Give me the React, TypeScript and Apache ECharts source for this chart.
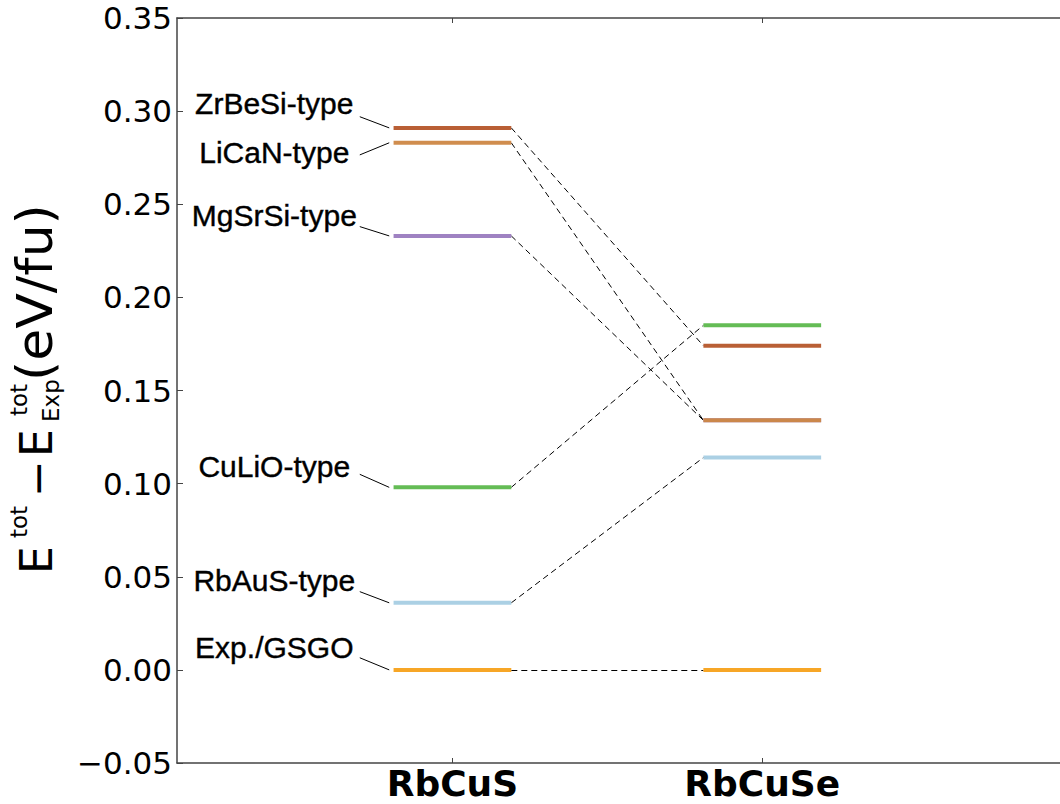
import React, { useEffect, useRef } from "react";
import * as echarts from "echarts";

// ---------- data ----------
const compounds = ["RbCuS", "RbCuSe"];
const compoundPos = [1, 2];
const structures = ["ZrBeSi-type", "LiCaN-type", "MgSrSi-type", "CuLiO-type", "RbAuS-type", "Exp./GSGO"];
const energyRbCuS = [0.291, 0.283, 0.233, 0.098, 0.036, 0.0];
const energyRbCuSe = [0.174, 0.134, 0.134, 0.185, 0.114, 0.0];
const levelColors = ["#b5562a", "#cd8745", "#9a7bbf", "#5cb84c", "#a6cee3", "#f7a11a"];
// annotation anchors (data units)
const labelX = 0.425;
const labelY = [0.304, 0.278, 0.244, 0.109, 0.048, 0.012];
const leaderStartX = 0.701;
const leaderStartY = [0.297, 0.2765, 0.238, 0.105, 0.042, 0.0065];
const leaderEndX = 0.796;

const HALF = 0.19;
const X_MIN = 0.111;
const X_MAX = 2.961;

export default function App() {
  const ref = useRef<HTMLDivElement>(null);
  useEffect(() => {
    if (!ref.current) return;
    const chart = echarts.init(ref.current, null, { renderer: "svg" });

    const levelData: any[] = [];
    for (let i = structures.length - 1; i >= 0; i--) {
      levelData.push([compoundPos[0], energyRbCuS[i], i]);
      levelData.push([compoundPos[1], energyRbCuSe[i], i]);
    }

    const connectors = structures.map((s, i) => ({
      coords: [
        [compoundPos[0] + HALF, energyRbCuS[i]],
        [compoundPos[1] - HALF, energyRbCuSe[i]],
      ],
    }));
    const leaders = structures.map((s, i) => ({
      coords: [
        [leaderStartX, leaderStartY[i]],
        [leaderEndX, energyRbCuS[i]],
      ],
    }));
    const labels = structures.map((s, i) => ({ name: s, value: [labelX, labelY[i]] }));

    const axisColor = "#444";
    const subFont = 23;
    const mainFont = 44;
    const font = "DejaVu Sans";
    const t = (text: string, x: number, y: number, size: number, extra: any = {}) => ({
      type: "text",
      x,
      y,
      ...extra,
      style: { text, fontSize: size, fontFamily: font, fill: "#000", align: "left", verticalAlign: "middle" },
    });

    chart.setOption({
      animation: false,
      grid: { left: 177, right: 0, top: 18, bottom: 41, containLabel: false },
      xAxis: [
        {
          type: "value",
          position: "bottom",
          min: X_MIN,
          max: X_MAX,
          axisLine: { show: true, onZero: false, lineStyle: { color: axisColor, width: 1.5 } },
          axisTick: { show: true, inside: true, length: 5, customValues: compoundPos, lineStyle: { color: axisColor, width: 1 } },
          axisLabel: {
            show: true,
            customValues: compoundPos,
            formatter: (v: number) => compounds[Math.round(v) - 1] || "",
            fontSize: 36,
            lineHeight: 34,
            fontWeight: "bold",
            fontFamily: "DejaVu Sans",
            color: "#000",
            margin: 3,
          },
          splitLine: { show: false },
        },
        {
          type: "value",
          position: "top",
          min: X_MIN,
          max: X_MAX,
          axisLine: { show: true, onZero: false, lineStyle: { color: axisColor, width: 1.5 } },
          axisTick: { show: true, inside: true, length: 5, customValues: compoundPos, lineStyle: { color: axisColor, width: 1 } },
          axisLabel: { show: false },
          splitLine: { show: false },
        },
      ],
      yAxis: {
        type: "value",
        min: -0.05,
        max: 0.35,
        interval: 0.05,
        axisLine: { show: true, onZero: false, lineStyle: { color: axisColor, width: 1.5 } },
        axisTick: { show: true, inside: true, length: 6, lineStyle: { color: axisColor, width: 1 } },
        axisLabel: {
          fontSize: 31,
          fontFamily: "DejaVu Sans",
          color: "#000",
          margin: 5,
          formatter: (v: number) => (v < -1e-9 ? "\u2212" : "") + Math.abs(v).toFixed(2),
        },
        splitLine: { show: false },
      },
      series: [
        {
          type: "lines",
          coordinateSystem: "cartesian2d",
          xAxisIndex: 0,
          silent: true,
          z: 2,
          lineStyle: { color: "#000", width: 1, type: [6, 4], opacity: 1 },
          data: connectors,
        },
        {
          type: "lines",
          coordinateSystem: "cartesian2d",
          xAxisIndex: 0,
          silent: true,
          z: 2,
          lineStyle: { color: "#000", width: 1, type: "solid", opacity: 1 },
          data: leaders,
        },
        {
          type: "custom",
          xAxisIndex: 0,
          silent: true,
          z: 5,
          data: levelData,
          renderItem: (params: any, api: any) => {
            const x = api.value(0);
            const y = api.value(1);
            const idx = api.value(2);
            const p1 = api.coord([x - HALF, y]);
            const p2 = api.coord([x + HALF, y]);
            return {
              type: "line",
              shape: { x1: p1[0], y1: p1[1], x2: p2[0], y2: p2[1] },
              style: { stroke: levelColors[idx], lineWidth: 4, opacity: 0.95 },
            };
          },
        },
        {
          type: "scatter",
          xAxisIndex: 0,
          silent: true,
          symbolSize: 0,
          z: 6,
          data: labels,
          itemStyle: { color: "#000", opacity: 1 },
          label: {
            show: true,
            position: "inside",
            formatter: (p: any) => p.name,
            fontSize: 30,
            fontFamily: "Liberation Sans",
            color: "#000",
            opacity: 1,
            textBorderColor: "#000",
            textBorderWidth: 0.4,
          },
        },
      ],
      graphic: [
        {
          type: "group",
          x: 36,
          y: 574,
          rotation: Math.PI / 2,
          silent: true,
          children: [
            t("E", 0, 0, mainFont),
            t("tot", 36, -16.7, subFont),
            t("\u2212", 77, 1.5, mainFont),
            t("E", 117, 0, mainFont),
            t("tot", 158, -16.7, subFont),
            t("Exp", 152, 15.3, subFont),
            t("(eV/fu)", 193, -1, 50, { scaleX: 1.04 }),
          ],
        },
      ],
    });
    return () => chart.dispose();
  }, []);
  return <div ref={ref} style={{ position: "absolute", left: 0, top: 0, width: 1060, height: 804 }} />;
}
